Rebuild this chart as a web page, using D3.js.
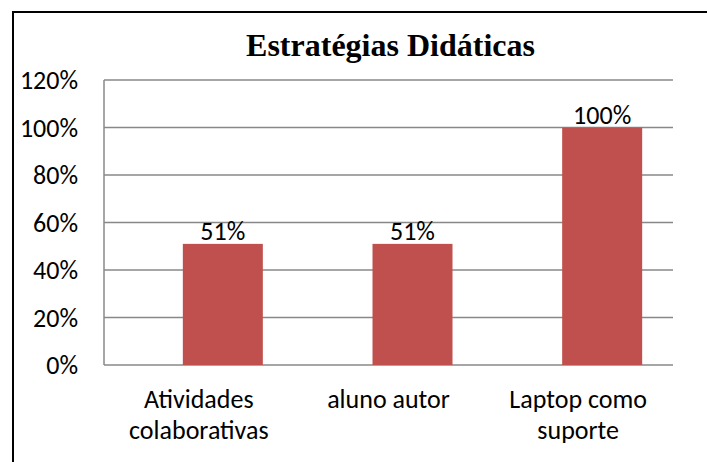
<!DOCTYPE html>
<html>
<head>
<meta charset="utf-8">
<script src="https://cdn.jsdelivr.net/npm/d3@7"></script>
<style>
  body { margin: 0; background: #fff; }
  svg { display: block; }
</style>
</head>
<body>
<svg id="chart" width="707" height="462"></svg>
<script>
const categories = [["Atividades", "colaborativas"], ["aluno autor"], ["Laptop como", "suporte"]];
const values = [0.51, 0.51, 1.00];
const yTicks = [0, 0.2, 0.4, 0.6, 0.8, 1.0, 1.2];
const title = "Estratégias Didáticas";

const svg = d3.select("#chart");
const W = 707, H = 462;
const plot = { left: 104, right: 673, top: 80, bottom: 365 };
const labelFont = "Carlito, Calibri, Lato, sans-serif";

// chart border (only top and left visible in the crop)
svg.append("rect")
  .attr("x", 13).attr("y", 12)
  .attr("width", W + 20).attr("height", H + 20)
  .attr("fill", "#fff")
  .attr("stroke", "#000")
  .attr("stroke-width", 2);

const keys = categories.map(c => c.join(" "));
const x = d3.scaleBand().domain(keys).range([plot.left, plot.right]);
const y = d3.scaleLinear().domain([0, 1.2]).range([plot.bottom, plot.top]);
const barW = 80;
const barShift = 24;

// gridlines
svg.append("g")
  .selectAll("line")
  .data(yTicks)
  .join("line")
  .attr("x1", plot.left).attr("x2", plot.right)
  .attr("y1", d => y(d)).attr("y2", d => y(d))
  .attr("stroke", "#888")
  .attr("stroke-width", 1.5);

// y axis line
svg.append("line")
  .attr("x1", plot.left).attr("x2", plot.left)
  .attr("y1", y(1.2)).attr("y2", y(0))
  .attr("stroke", "#888")
  .attr("stroke-width", 1.5);

// y tick labels
svg.append("g")
  .selectAll("text")
  .data(yTicks)
  .join("text")
  .attr("x", 78)
  .attr("y", d => y(d))
  .attr("dy", "0.35em")
  .attr("text-anchor", "end")
  .style("font-family", labelFont)
  .style("font-size", "26px")
  .text(d => d3.format(".0%")(d));

// bars
svg.append("g")
  .selectAll("rect")
  .data(values)
  .join("rect")
  .attr("x", (d, i) => x(keys[i]) + x.bandwidth() / 2 + barShift - barW / 2)
  .attr("y", d => y(d))
  .attr("width", barW)
  .attr("height", d => y(0) - y(d))
  .attr("fill", "#C0504D");

// value labels
svg.append("g")
  .selectAll("text")
  .data(values)
  .join("text")
  .attr("x", (d, i) => x(keys[i]) + x.bandwidth() / 2 + barShift)
  .attr("y", d => y(d) - 4)
  .attr("text-anchor", "middle")
  .style("font-family", labelFont)
  .style("font-size", "26px")
  .text(d => d3.format(".0%")(d));

// category labels
const cat = svg.append("g")
  .selectAll("text")
  .data(categories)
  .join("text")
  .attr("text-anchor", "middle")
  .style("font-family", labelFont)
  .style("font-size", "26px");

cat.selectAll("tspan")
  .data((d, i) => d.map(line => ({ line, i })))
  .join("tspan")
  .attr("x", d => x(keys[d.i]) + x.bandwidth() / 2)
  .attr("y", (d, j) => 408 + j * 31)
  .text(d => d.line);

// title
svg.append("text")
  .attr("x", (plot.left + plot.right) / 2 + 2)
  .attr("y", 56)
  .attr("text-anchor", "middle")
  .style("font-family", "'Liberation Serif', 'Times New Roman', serif")
  .style("font-weight", "bold")
  .style("font-size", "32px")
  .text(title);
</script>
</body>
</html>
